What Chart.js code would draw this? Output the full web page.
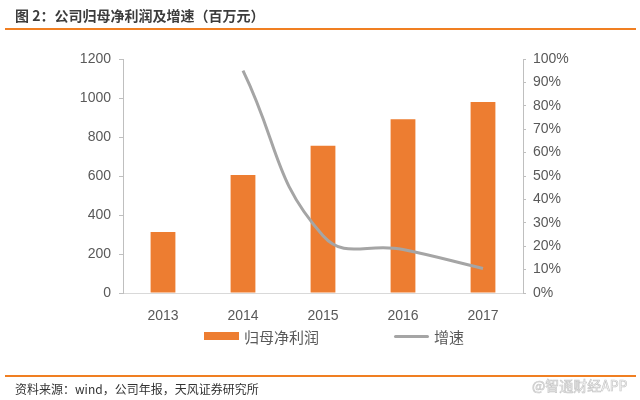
<!DOCTYPE html>
<html>
<head>
<meta charset="utf-8">
<script src="https://cdn.jsdelivr.net/npm/chart.js@4/dist/chart.umd.min.js"></script>
<style>
  body { margin: 0; background: #fff; }
  #wrap { position: relative; width: 640px; height: 400px; overflow: hidden;
          font-family: "Liberation Sans", "Noto Sans CJK SC", sans-serif; }
  #chart { position: absolute; left: 0; top: 0; }
  .title { position: absolute; left: 15px; top: 5px; font-size: 14px; font-weight: bold; color: #3c3c3c;
           font-family: "Noto Sans CJK SC", sans-serif; }
  .rule { position: absolute; left: 5px; width: 631px; height: 2px; background: #f07f22; }
  .source { position: absolute; left: 15px; top: 380px; font-size: 12px; color: #333;
            font-family: "Noto Sans CJK SC", sans-serif; }
  .mark { position: absolute; left: 532px; top: 375px; font-size: 14px; color: #fff;
          -webkit-text-stroke: 0.7px #c8c8c8; font-family: "Noto Sans CJK SC", sans-serif; }
  #legend { position: absolute; top: 326px; left: 0; width: 640px; height: 20px; }
  .item { position: absolute; top: 0; height: 20px; display: flex; align-items: center;
          font-size: 15px; color: #595959; font-family: "Noto Sans CJK SC", sans-serif; }
  .swatch { margin-right: 5px; }
</style>
</head>
<body>
<div id="wrap">
  <canvas id="chart" width="640" height="400"></canvas>
  <div class="title">图 2：公司归母净利润及增速（百万元）</div>
  <div class="rule" style="top:28px"></div>
  <div id="legend"></div>
  <div class="rule" style="top:375px"></div>
  <div class="source">资料来源：wind，公司年报，天风证券研究所</div>
  <div class="mark">@智通财经APP</div>
</div>
<script>
const years = ['2013', '2014', '2015', '2016', '2017'];
const netProfit = [313, 605, 755, 891, 979];
const growth = [null, 95, 24.5, 18.6, 10.5];
const profitTicks = [0, 200, 400, 600, 800, 1000, 1200];
const growthTicks = [0, 10, 20, 30, 40, 50, 60, 70, 80, 90, 100];

const orange = '#ed7d31';
const grey = '#a5a5a5';
const axisGrey = '#bfbfbf';
const tickFont = { family: '"Liberation Sans", Arial, sans-serif', size: 14 };

const ctx = document.getElementById('chart').getContext('2d');
const chart = new Chart(ctx, {
    type: 'bar',
    data: {
        labels: years,
        datasets: [{
            type: 'line',
            label: '增速',
            data: growth,
            yAxisID: 'y1',
            borderColor: grey,
            borderWidth: 3,
            pointRadius: 0,
            tension: 0.45,
            fill: false,
            order: 0
        }, {
            label: '归母净利润',
            data: netProfit,
            yAxisID: 'y',
            backgroundColor: orange,
            borderWidth: 0,
            barPercentage: 0.31,
            categoryPercentage: 1,
            order: 1
        }]
    },
    options: {
        responsive: false,
        animation: false,
        layout: { padding: { top: 59, left: 0, right: 0, bottom: 77 } },
        plugins: {
            legend: { display: false },
            tooltip: { enabled: false }
        },
        scales: {
            x: {
                grid: { display: false },
                border: { display: true, color: '#d9d9d9', width: 1 },
                ticks: { color: '#595959', font: tickFont, padding: 7 },
                afterFit: s => { s.height = 30; }
            },
            y: {
                position: 'left',
                min: 0,
                max: 1200,
                afterBuildTicks: s => { s.ticks = profitTicks.map(v => ({ value: v })); },
                grid: { drawOnChartArea: false, drawTicks: true, tickLength: 4, color: axisGrey },
                border: { display: true, color: axisGrey, width: 1 },
                ticks: { color: '#595959', font: tickFont, padding: 8, callback: v => String(v) },
                afterFit: s => { s.width = 123; }
            },
            y1: {
                position: 'right',
                min: 0,
                max: 100,
                afterBuildTicks: s => { s.ticks = growthTicks.map(v => ({ value: v })); },
                grid: { drawOnChartArea: false, drawTicks: true, tickLength: 3, color: axisGrey },
                border: { display: true, color: axisGrey, width: 1 },
                ticks: { color: '#595959', font: tickFont, padding: 7, callback: v => v + '%' },
                afterFit: s => { s.width = 117; }
            }
        }
    }
});

// legend placed like the original, built from the datasets
const legendBox = document.getElementById('legend');
const legendPos = { '归母净利润': 204, '增速': 394 };
[chart.data.datasets[1], chart.data.datasets[0]].forEach(ds => {
    const item = document.createElement('div');
    item.className = 'item';
    item.style.left = legendPos[ds.label] + 'px';
    const sw = document.createElement('span');
    sw.className = 'swatch';
    sw.style.display = 'inline-block';
    sw.style.width = '35px';
    if (ds.type === 'line') {
        sw.style.height = '3px';
        sw.style.background = ds.borderColor;
        sw.style.borderRadius = '2px';
    } else {
        sw.style.height = '8px';
        sw.style.background = ds.backgroundColor;
    }
    item.appendChild(sw);
    item.appendChild(document.createTextNode(ds.label));
    legendBox.appendChild(item);
});
</script>
</body>
</html>
